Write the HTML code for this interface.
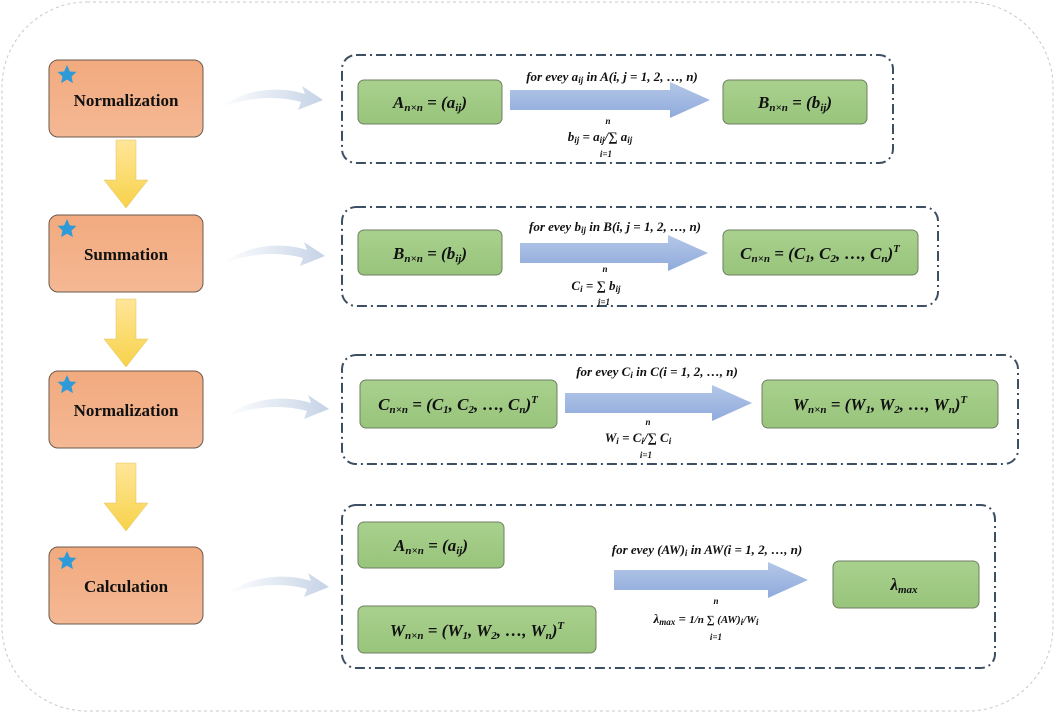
<!DOCTYPE html><html><head><style>body{margin:0;background:#fff}svg{display:block}
text{font-family:"Liberation Serif",serif}
.m{font-style:italic;font-weight:bold;font-size:13px}
.b{font-style:italic;font-weight:bold;font-size:17px}
.o{font-weight:bold;font-size:17px}
</style></head><body>
<svg width="1055" height="713" viewBox="0 0 1055 713">
<defs>
<linearGradient id="og" x1="0" y1="0" x2="0" y2="1"><stop offset="0" stop-color="#f2aa7e"/><stop offset="1" stop-color="#f4b894"/></linearGradient>
<linearGradient id="gg" x1="0" y1="0" x2="0" y2="1"><stop offset="0" stop-color="#a9d18e"/><stop offset="1" stop-color="#98c47b"/></linearGradient>
<linearGradient id="bg" x1="0" y1="0" x2="0" y2="1"><stop offset="0" stop-color="#b4c7e7"/><stop offset="1" stop-color="#8faadc"/></linearGradient>
<linearGradient id="yg" x1="0" y1="0" x2="0" y2="1"><stop offset="0" stop-color="#ffe699"/><stop offset="1" stop-color="#f7d24a"/></linearGradient>
<linearGradient id="cg" x1="0" y1="0" x2="1" y2="0"><stop offset="0" stop-color="#fff"/><stop offset="1" stop-color="#c5d3e6"/></linearGradient>
<g id="star"><polygon points="0,-10 2.9,-3.5 9.5,-3.1 4.5,1.5 5.9,8.1 0,4.6 -5.9,8.1 -4.5,1.5 -9.5,-3.1 -2.9,-3.5" fill="#2e9ad8"/></g>
<g id="curve"><path d="M0,12 C25,-8 60,-10 85,-2 L82,-10 L103,4 L78,14 L81,6 C58,0 30,0 0,12 Z" fill="url(#cg)"/></g>
<g id="ya"><polygon points="12,0 32,0 32,40 44,40 22,68 0,40 12,40" fill="url(#yg)" stroke="#e0c060" stroke-width="0.5"/></g>
</defs>
<rect x="2" y="2" width="1051" height="709" rx="85" fill="none" stroke="#c8c8c8" stroke-width="1" stroke-dasharray="3,3"/>
<g stroke="#6b5a4e" stroke-width="1" fill="url(#og)">
<rect x="49" y="60" width="154" height="77" rx="9"/><rect x="49" y="215" width="154" height="77" rx="9"/>
<rect x="49" y="371" width="154" height="77" rx="9"/><rect x="49" y="547" width="154" height="77" rx="9"/></g>
<use href="#star" x="67" y="75"/><use href="#star" x="67" y="229"/><use href="#star" x="67" y="385"/><use href="#star" x="67" y="561"/>
<g class="o" text-anchor="middle" fill="#111"><text x="126" y="106">Normalization</text><text x="126" y="260">Summation</text><text x="126" y="416">Normalization</text><text x="126" y="592">Calculation</text></g>
<use href="#ya" x="104" y="140"/><use href="#ya" x="104" y="299"/><use href="#ya" x="104" y="463"/>
<use href="#curve" x="220" y="96"/><use href="#curve" x="222" y="252"/><use href="#curve" x="226" y="405"/><use href="#curve" x="226" y="583"/>
<g fill="none" stroke="#3d4f63" stroke-width="2" stroke-dasharray="10,4,2,4">
<rect x="342" y="55" width="551" height="108" rx="14"/><rect x="342" y="207" width="596" height="99" rx="14"/>
<rect x="342" y="355" width="676" height="109" rx="14"/><rect x="342" y="505" width="653" height="163" rx="14"/></g>
<g fill="url(#gg)" stroke="#6f7f62" stroke-width="1">
<rect x="358" y="80" width="144" height="44" rx="6"/><rect x="723" y="80" width="144" height="44" rx="6"/>
<rect x="358" y="230" width="144" height="45" rx="6"/><rect x="723" y="230" width="195" height="45" rx="6"/>
<rect x="360" y="380" width="197" height="48" rx="6"/><rect x="762" y="380" width="236" height="48" rx="6"/>
<rect x="358" y="522" width="146" height="46" rx="6"/><rect x="358" y="606" width="238" height="47" rx="6"/><rect x="833" y="561" width="146" height="47" rx="6"/></g>
<g fill="url(#bg)">
<polygon points="510,90 670,90 670,82 710,100 670,118 670,110 510,110"/>
<polygon points="520,243 668,243 668,235 708,253 668,271 668,263 520,263"/>
<polygon points="565,393 712,393 712,385 752,403 712,421 712,413 565,413"/>
<polygon points="614,570 768,570 768,562 808,580 768,598 768,590 614,590"/></g>
<g class="b" text-anchor="middle" fill="#111">
<text x="430" y="108">A<tspan font-size="11" dy="3">n×n</tspan><tspan dy="-3"> = (a</tspan><tspan font-size="11" dy="3">ij</tspan><tspan dy="-3">)</tspan></text>
<text x="795" y="108">B<tspan font-size="11" dy="3">n×n</tspan><tspan dy="-3"> = (b</tspan><tspan font-size="11" dy="3">ij</tspan><tspan dy="-3">)</tspan></text>
<text x="430" y="259">B<tspan font-size="11" dy="3">n×n</tspan><tspan dy="-3"> = (b</tspan><tspan font-size="11" dy="3">ij</tspan><tspan dy="-3">)</tspan></text>
<text x="820" y="259">C<tspan font-size="11" dy="3">n×n</tspan><tspan dy="-3"> = (C</tspan><tspan font-size="11" dy="3">1</tspan><tspan dy="-3">, C</tspan><tspan font-size="11" dy="3">2</tspan><tspan dy="-3">, …, C</tspan><tspan font-size="11" dy="3">n</tspan><tspan dy="-3">)</tspan><tspan font-size="11" dy="-7">T</tspan></text>
<text x="458" y="410">C<tspan font-size="11" dy="3">n×n</tspan><tspan dy="-3"> = (C</tspan><tspan font-size="11" dy="3">1</tspan><tspan dy="-3">, C</tspan><tspan font-size="11" dy="3">2</tspan><tspan dy="-3">, …, C</tspan><tspan font-size="11" dy="3">n</tspan><tspan dy="-3">)</tspan><tspan font-size="11" dy="-7">T</tspan></text>
<text x="880" y="410">W<tspan font-size="11" dy="3">n×n</tspan><tspan dy="-3"> = (W</tspan><tspan font-size="11" dy="3">1</tspan><tspan dy="-3">, W</tspan><tspan font-size="11" dy="3">2</tspan><tspan dy="-3">, …, W</tspan><tspan font-size="11" dy="3">n</tspan><tspan dy="-3">)</tspan><tspan font-size="11" dy="-7">T</tspan></text>
<text x="431" y="551">A<tspan font-size="11" dy="3">n×n</tspan><tspan dy="-3"> = (a</tspan><tspan font-size="11" dy="3">ij</tspan><tspan dy="-3">)</tspan></text>
<text x="477" y="636">W<tspan font-size="11" dy="3">n×n</tspan><tspan dy="-3"> = (W</tspan><tspan font-size="11" dy="3">1</tspan><tspan dy="-3">, W</tspan><tspan font-size="11" dy="3">2</tspan><tspan dy="-3">, …, W</tspan><tspan font-size="11" dy="3">n</tspan><tspan dy="-3">)</tspan><tspan font-size="11" dy="-7">T</tspan></text>
<text x="904" y="590">λ<tspan font-size="11" dy="3">max</tspan></text>
</g>
<g class="m" text-anchor="middle" fill="#111">
<text x="612" y="81">for evey a<tspan font-size="9" dy="2">ij</tspan><tspan dy="-2"> in A(i, j = 1, 2, …, n)</tspan></text>
<text x="615" y="231">for evey b<tspan font-size="9" dy="2">ij</tspan><tspan dy="-2"> in B(i, j = 1, 2, …, n)</tspan></text>
<text x="657" y="376">for evey C<tspan font-size="9" dy="2">i</tspan><tspan dy="-2"> in C(i = 1, 2, …, n)</tspan></text>
<text x="707" y="554">for evey (AW)<tspan font-size="9" dy="2">i</tspan><tspan dy="-2"> in AW(i = 1, 2, …, n)</tspan></text>
<text x="600" y="141">b<tspan font-size="9" dy="2">ij</tspan><tspan dy="-2"> = a</tspan><tspan font-size="9" dy="2">ij</tspan><tspan dy="-2">/∑ a</tspan><tspan font-size="9" dy="2">ij</tspan></text>
<text x="608" y="124" font-size="9">n</text><text x="606" y="157" font-size="9">i=1</text>
<text x="596" y="290">C<tspan font-size="9" dy="2">i</tspan><tspan dy="-2"> = ∑ b</tspan><tspan font-size="9" dy="2">ij</tspan></text>
<text x="605" y="272" font-size="9">n</text><text x="604" y="305" font-size="9">j=1</text>
<text x="638" y="442">W<tspan font-size="9" dy="2">i</tspan><tspan dy="-2"> = C</tspan><tspan font-size="9" dy="2">i</tspan><tspan dy="-2">/∑ C</tspan><tspan font-size="9" dy="2">i</tspan></text>
<text x="648" y="425" font-size="9">n</text><text x="646" y="458" font-size="9">i=1</text>
<text x="706" y="623">λ<tspan font-size="9" dy="2">max</tspan><tspan dy="-2"> = </tspan><tspan font-size="11">1/n ∑ (AW)</tspan><tspan font-size="9" dy="2">i</tspan><tspan dy="-2" font-size="11">/W</tspan><tspan font-size="9" dy="2">i</tspan></text>
<text x="716" y="604" font-size="9">n</text><text x="716" y="640" font-size="9">i=1</text>
</g>
</svg></body></html>
